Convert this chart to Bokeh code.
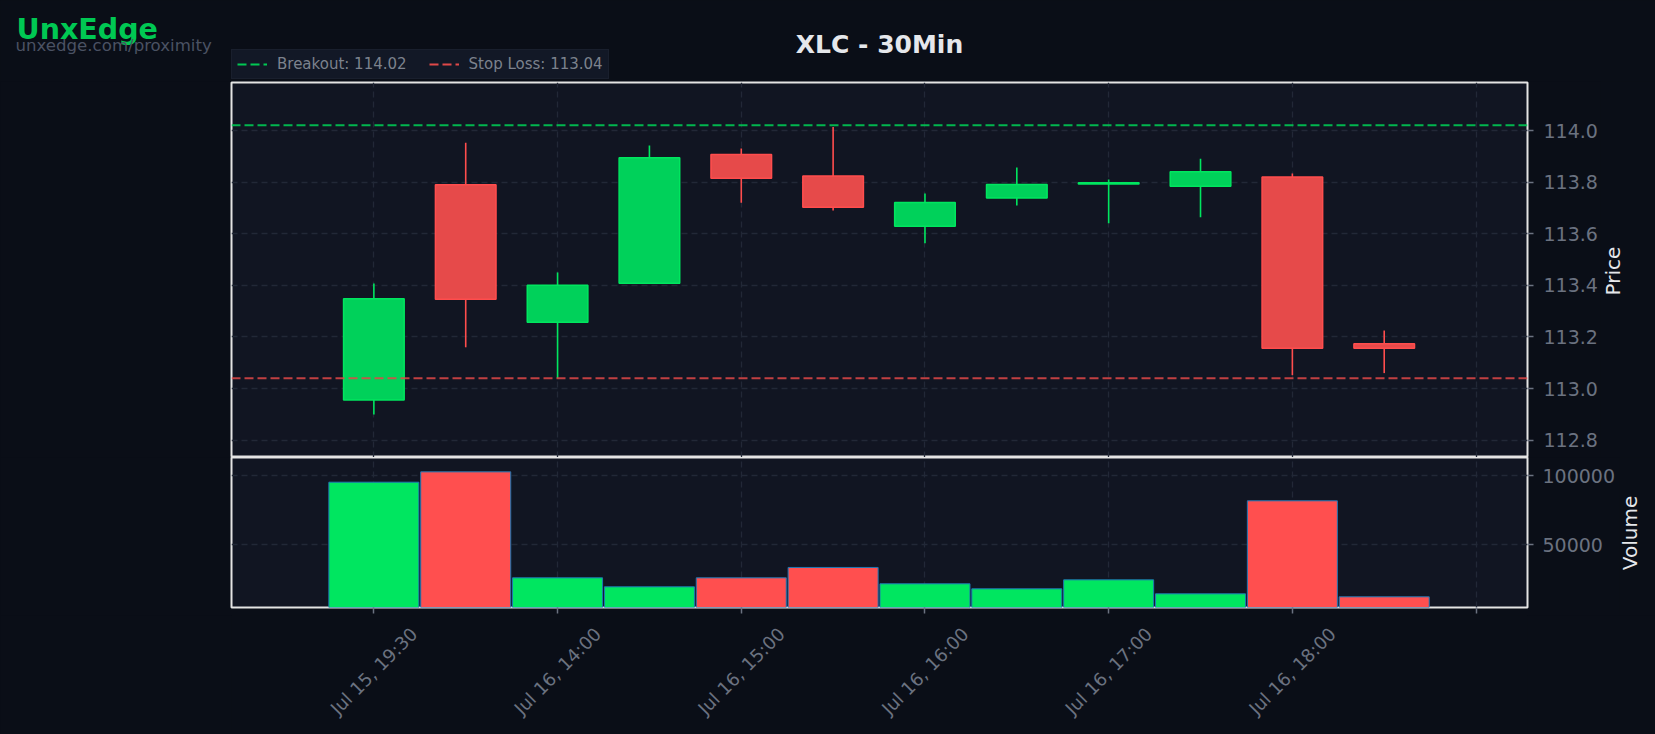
import math
from bokeh.plotting import figure
from bokeh.models import (ColumnDataSource, Span, Legend, LegendItem, Label,
                          FixedTicker, PrintfTickFormatter, Range1d)
from bokeh.layouts import column, row
from bokeh.embed import file_html
from bokeh.resources import INLINE

# ---------------- data ----------------
symbol = "XLC"
timeframe = "30Min"
candle_index = list(range(12))
open_ = [112.956, 113.790, 113.257, 113.408, 113.907, 113.824, 113.629, 113.738, 113.793, 113.784, 113.820, 113.174]
high = [113.407, 113.953, 113.450, 113.942, 113.930, 114.014, 113.756, 113.857, 113.810, 113.891, 113.833, 113.225]
low = [112.900, 113.160, 113.040, 113.408, 113.720, 113.690, 113.563, 113.709, 113.641, 113.664, 113.052, 113.060]
close = [113.348, 113.346, 113.400, 113.894, 113.815, 113.703, 113.721, 113.791, 113.798, 113.840, 113.156, 113.156]
volume = [95150, 102650, 25870, 19350, 25870, 33370, 21530, 17900, 24400, 14270, 81670, 12100]
breakout = 114.02
stop_loss = 113.04
x_tick_positions = [0, 2, 4, 6, 8, 10, 12]
x_tick_labels = ["Jul 15, 19:30", "Jul 16, 14:00", "Jul 16, 15:00", "Jul 16, 16:00",
                 "Jul 16, 17:00", "Jul 16, 18:00"]
price_ticks = [112.8, 113.0, 113.2, 113.4, 113.6, 113.8, 114.0]
volume_ticks = [50000, 100000]

# ---------------- style ----------------
FONT = "DejaVu Sans"
BG = "#0a0e17"
PANEL = "#111522"
GRID = "#222837"
SPINE = "#e4e4e4"
TICK = "#6b7280"
AXLAB = "#e5e7eb"
UP_FILL, UP_EDGE = "#00d15a", "#00e65f"
DN_FILL, DN_EDGE = "#e64a4a", "#ff4d4d"
VOL_UP, VOL_DN = "#00e660", "#ff4f4f"
BO_COLOR, SL_COLOR = "#00c853", "#e04848"
W = 1655
FRAME_L = 231
FRAME_RIGHT_X = 1527
HEAD_H = 81
PRICE_H = 376
VOL_H = 158
PRICE_W = 1600
VOL_W = 1619

is_up = [c >= o for o, c in zip(open_, close)]
src = ColumnDataSource(dict(
    x=candle_index,
    high=high, low=low,
    top=[max(o, c) for o, c in zip(open_, close)],
    bottom=[min(o, c) for o, c in zip(open_, close)],
    fill=[UP_FILL if u else DN_FILL for u in is_up],
    edge=[UP_EDGE if u else DN_EDGE for u in is_up],
    volume=volume,
    vfill=[VOL_UP if u else VOL_DN for u in is_up],
))

x_range = Range1d(-1.55, 12.56)
xt = FixedTicker(ticks=x_tick_positions)


def base_fig(width, height, **kw):
    fig = figure(width=width, height=height, output_backend="svg", toolbar_location=None,
                 border_fill_color=BG, **kw)
    try:
        fig.frame_align = False
    except Exception:
        pass
    return fig


def blank_fig(width, height):
    fig = base_fig(width, height, x_range=Range1d(0, width), y_range=Range1d(height, 0),
                   x_axis_location=None, y_axis_location=None,
                   min_border_left=0, min_border_right=0, min_border_top=0, min_border_bottom=0,
                   background_fill_color=BG, outline_line_color=None)
    fig.grid.visible = False
    return fig


def style_grid(g):
    g.grid_line_color = GRID
    g.grid_line_dash = "6 4"
    g.grid_line_width = 1.3


def style_y(ax, standoff=10):
    ax.major_label_text_font = FONT
    ax.major_label_text_font_size = "19px"
    ax.major_label_text_color = TICK
    ax.major_label_standoff = standoff
    ax.major_tick_out = 6
    ax.major_tick_in = 0
    ax.minor_tick_out = 0
    ax.minor_tick_in = 0
    ax.major_tick_line_color = TICK
    ax.major_tick_line_width = 1.5
    ax.axis_line_color = None


# ---------------- header (logo, title, legend) ----------------
h = blank_fig(W, HEAD_H)
h.add_layout(Label(x=16, y=29, text="UnxEdge", text_font=FONT, text_font_size="28.5px",
                   text_font_style="bold", text_color="#00c853", text_baseline="alphabetic"))
h.add_layout(Label(x=15, y=45, text="unxedge.com/proximity", text_font=FONT,
                   text_font_size="16.6px", text_color="#4b5263", text_baseline="alphabetic"))
h.add_layout(Label(x=879, y=44, text=f"{symbol} - {timeframe}", text_font=FONT,
                   text_font_size="25px", text_font_style="bold", text_color=AXLAB,
                   text_align="center", text_baseline="alphabetic"))
# legend proxies: single-point lines draw nothing on the canvas but give the legend its glyphs
r_b = h.line(x=[0], y=[0], line_color=BO_COLOR, line_dash="9 4", line_width=2)
r_s = h.line(x=[0], y=[0], line_color=SL_COLOR, line_dash="9 4", line_width=2)
legend = Legend(items=[LegendItem(label=f"Breakout: {breakout:.2f}", renderers=[r_b]),
                       LegendItem(label=f"Stop Loss: {stop_loss:.2f}", renderers=[r_s])],
                orientation="horizontal", location=(FRAME_L, 2),
                background_fill_color="#121826", background_fill_alpha=1,
                border_line_color="#1f2533", border_line_width=1,
                label_text_color="#7c828d", label_text_font=FONT, label_text_font_size="15px",
                glyph_width=30, glyph_height=16, label_height=16, label_standoff=10,
                spacing=22, padding=5, margin=0)
h.add_layout(legend, "center")

# ---------------- price pane ----------------
p = base_fig(PRICE_W, PRICE_H, x_range=x_range, y_range=Range1d(112.733, 114.186),
             y_axis_location="right",
             min_border_left=FRAME_L, min_border_right=PRICE_W - FRAME_RIGHT_X,
             min_border_top=1, min_border_bottom=0,
             background_fill_color=PANEL,
             outline_line_color=SPINE, outline_line_width=2)
p.xaxis.visible = False
p.xaxis.ticker = xt
p.xgrid.ticker = xt
style_grid(p.xgrid[0])

pt = FixedTicker(ticks=price_ticks)
p.yaxis.ticker = pt
p.yaxis.formatter = PrintfTickFormatter(format="%.1f")
style_y(p.yaxis[0])
p.ygrid.ticker = pt
style_grid(p.ygrid[0])

p.segment(x0="x", y0="low", x1="x", y1="high", line_color="edge", line_width=1.6, source=src)
p.vbar(x="x", width=0.66, top="top", bottom="bottom", fill_color="fill",
       line_color="edge", line_width=1.5, source=src)

p.add_layout(Span(location=breakout, dimension="width", line_color=BO_COLOR,
                  line_dash="9 4", line_width=2, line_alpha=0.9))
p.add_layout(Span(location=stop_loss, dimension="width", line_color=SL_COLOR,
                  line_dash="9 4", line_width=2, line_alpha=0.85))

# "Price" axis title, reading bottom to top, beside the price tick labels
lp = blank_fig(W - PRICE_W, PRICE_H)
lp.add_layout(Label(x=1612.5 - PRICE_W, y=189.5, text="Price", angle=math.pi / 2,
                    text_align="center", text_baseline="middle", text_font=FONT,
                    text_font_size="20px", text_color=AXLAB))

# ---------------- volume pane ----------------
v = base_fig(VOL_W, VOL_H, x_range=x_range, y_range=Range1d(4350, 113050),
             y_axis_location="right",
             min_border_left=FRAME_L, min_border_right=VOL_W - FRAME_RIGHT_X,
             min_border_top=0, min_border_bottom=8,
             background_fill_color=PANEL,
             outline_line_color=SPINE, outline_line_width=2)
v.vbar(x="x", width=0.98, top="volume", bottom=0, fill_color="vfill",
       line_color="#1f77b4", line_width=1, source=src)

vt = FixedTicker(ticks=volume_ticks)
v.yaxis.ticker = vt
v.yaxis.formatter = PrintfTickFormatter(format="%d")
style_y(v.yaxis[0], standoff=9)
v.ygrid.ticker = vt
style_grid(v.ygrid[0])

xa = v.xaxis[0]
xa.ticker = xt
xa.major_label_overrides = {t: "" for t in x_tick_positions}
xa.major_label_text_font_size = "1px"
xa.major_label_standoff = 0
xa.major_tick_out = 6
xa.major_tick_in = 0
xa.minor_tick_out = 0
xa.minor_tick_in = 0
xa.major_tick_line_color = TICK
xa.major_tick_line_width = 1.5
xa.axis_line_color = None
v.xgrid.ticker = xt
style_grid(v.xgrid[0])

lv = blank_fig(W - VOL_W, VOL_H)
lv.add_layout(Label(x=1629 - VOL_W, y=75.5, text="Volume", angle=math.pi / 2,
                    text_align="center", text_baseline="middle", text_font=FONT,
                    text_font_size="20px", text_color=AXLAB))

# ---------------- footer: rotated time labels on the shared x scale ----------------
FOOT_H = 734 - HEAD_H - PRICE_H - VOL_H
f = base_fig(W, FOOT_H, x_range=x_range, y_range=Range1d(FOOT_H, 0),
             x_axis_location=None, y_axis_location=None,
             min_border_left=FRAME_L, min_border_right=W - FRAME_RIGHT_X,
             min_border_top=0, min_border_bottom=0,
             background_fill_color=BG, outline_line_color=None)
f.grid.visible = False
lab_src = ColumnDataSource(dict(x=x_tick_positions[:len(x_tick_labels)],
                                y=[55.5] * len(x_tick_labels),
                                text=x_tick_labels))
f.text(x="x", y="y", text="text", angle=math.pi / 4, text_align="center",
       text_baseline="middle", text_font={"value": FONT}, text_font_size="18px",
       text_color=TICK, source=lab_src)

layout = column(h, row(p, lp, spacing=0), row(v, lv, spacing=0), f,
                spacing=0, styles={"background-color": BG})
html = file_html(layout, INLINE)
html = html.replace("<body>", f'<body style="margin:0;background:{BG};">')
open("out.html", "w").write(html)
